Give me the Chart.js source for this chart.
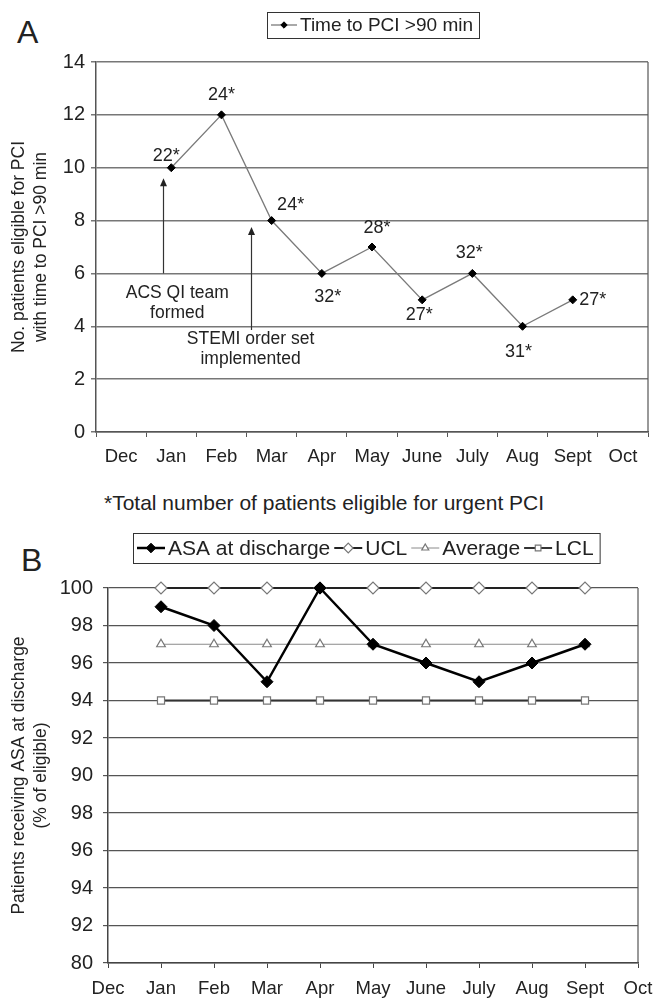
<!DOCTYPE html>
<html>
<head>
<meta charset="utf-8">
<script src="https://cdn.jsdelivr.net/npm/chart.js@4.4.1/dist/chart.umd.min.js"></script>
<style>
  body { margin: 0; background: #fff; width: 653px; height: 998px; position: relative; overflow: hidden;
         font-family: "Liberation Sans", Arial, sans-serif; color: #222; }
  canvas { position: absolute; left: 0; }
  #chartA { top: 0; }
  #chartB { top: 520px; }
  .panel { position: absolute; line-height: 1; }
  #note { position: absolute; left: 104px; top: 490px; font-size: 21px; line-height: 1.2; white-space: nowrap; }
</style>
</head>
<body>
<div class="panel" style="left:17px;top:16px;font-size:32px">A</div>
<div class="panel" style="left:21px;top:544px;font-size:32px">B</div>
<canvas id="chartA" width="653" height="480" style="width:653px;height:480px"></canvas>
<div id="note">*Total number of patients eligible for urgent PCI</div>
<canvas id="chartB" width="653" height="478" style="width:653px;height:478px"></canvas>
<script>
const months = ["Dec", "Jan", "Feb", "Mar", "Apr", "May", "June", "July", "Aug", "Sept", "Oct"];

// panel A
const pciOver90 = [null, 10, 12, 8, 6, 7, 5, 6, 4, 5, null];
const eligibleTotals = [null, 22, 24, 24, 32, 28, 27, 32, 31, 27, null];

// panel B
const asaDischarge = [null, 99, 98, 95, 100, 97, 96, 95, 96, 97, null];
const ucl = [null, 100, 100, 100, 100, 100, 100, 100, 100, 100, null];
const average = [null, 97, 97, 97, 97, 97, 97, 97, 97, 97, null];
const lcl = [null, 94, 94, 94, 94, 94, 94, 94, 94, 94, null];
const yTickLabelsB = ["80", "92", "94", "96", "98", "90", "92", "94", "96", "98", "100"];

// label placement around each point (px), and the two arrows of panel A (in axis units)
const labelOffsets = [null, [-5, -12], [0, -20], [19, -16], [6, 24], [5, -19], [-3, 15], [-3, -20], [-4, 26], [20, 0]];
const arrows = [
  { x: 0.84, from: 6, to: 9.6, text: ["ACS QI team", "formed"], tx: 1.12, ty: 5.25 },
  { x: 2.58, from: 3.86, to: 7.76, text: ["STEMI order set", "implemented"], tx: 2.58, ty: 3.5 },
];

const FONT = '"Liberation Sans", Arial, sans-serif';
Chart.defaults.font.family = FONT;
Chart.defaults.color = "#222";

function marker(ctx, style, x, y, r, fill, stroke, lw) {
  ctx.save();
  ctx.beginPath();
  if (style === "rectRot") {
    ctx.moveTo(x, y - r); ctx.lineTo(x + r, y); ctx.lineTo(x, y + r); ctx.lineTo(x - r, y);
  } else if (style === "triangle") {
    ctx.moveTo(x, y - r); ctx.lineTo(x + r * 0.87, y + r * 0.5); ctx.lineTo(x - r * 0.87, y + r * 0.5);
  } else {
    const s = r * 0.707;
    ctx.rect(x - s, y - s, 2 * s, 2 * s);
  }
  ctx.closePath();
  ctx.fillStyle = fill; ctx.fill();
  ctx.lineWidth = lw; ctx.strokeStyle = stroke; ctx.stroke();
  ctx.restore();
}

// boxed legend, Excel style: line + marker + label
const boxLegend = {
  id: "boxLegend",
  afterDraw(chart, args, opts) {
    const ctx = chart.ctx;
    ctx.save();
    ctx.font = opts.fontSize + "px " + FONT;
    ctx.textBaseline = "middle";
    const cy = opts.top + opts.height / 2;
    let x = opts.left + 4;
    chart.data.datasets.forEach(ds => {
      ctx.strokeStyle = ds.borderColor;
      ctx.lineWidth = ds.borderWidth;
      ctx.beginPath(); ctx.moveTo(x, cy); ctx.lineTo(x + opts.seg, cy); ctx.stroke();
      marker(ctx, ds.pointStyle, x + opts.seg / 2, cy, ds.pointRadius * 0.8, ds.pointBackgroundColor, ds.pointBorderColor, ds.pointBorderWidth);
      x += opts.seg + 3;
      ctx.fillStyle = "#222";
      ctx.fillText(ds.label, x, cy + 1);
      x += ctx.measureText(ds.label).width + 4;
    });
    ctx.strokeStyle = "#333";
    ctx.lineWidth = 1;
    ctx.strokeRect(opts.left + 0.5, opts.top + 0.5, x - opts.left + 2, opts.height);
    ctx.restore();
  }
};

const rightBorder = {
  id: "rightBorder",
  afterDraw(chart) {
    const { ctx, chartArea } = chart;
    ctx.save();
    ctx.strokeStyle = "#555";
    ctx.lineWidth = 1.2;
    ctx.beginPath();
    ctx.moveTo(chartArea.right, chartArea.top);
    ctx.lineTo(chartArea.right, chartArea.bottom);
    ctx.stroke();
    ctx.restore();
  }
};

const annotationsA = {
  id: "annotationsA",
  afterDatasetsDraw(chart) {
    const { ctx, scales: { x, y } } = chart;
    ctx.save();
    ctx.fillStyle = "#222";
    ctx.textAlign = "center";
    ctx.textBaseline = "middle";
    // point labels
    ctx.font = "18px " + FONT;
    chart.getDatasetMeta(0).data.forEach((pt, i) => {
      if (eligibleTotals[i] == null) return;
      const [dx, dy] = labelOffsets[i];
      ctx.fillText(eligibleTotals[i] + "*", pt.x + dx, pt.y + dy);
    });
    // arrows
    ctx.font = "17.5px " + FONT;
    arrows.forEach(a => {
      const px = Math.round(x.getPixelForValue(a.x)) + 0.5;
      const y0 = y.getPixelForValue(a.from);
      const y1 = y.getPixelForValue(a.to);
      ctx.strokeStyle = "#333";
      ctx.lineWidth = 1.2;
      ctx.beginPath(); ctx.moveTo(px, y0); ctx.lineTo(px, y1 + 6); ctx.stroke();
      ctx.beginPath(); ctx.moveTo(px, y1); ctx.lineTo(px + 3.5, y1 + 8); ctx.lineTo(px - 3.5, y1 + 8); ctx.closePath(); ctx.fill();
      const tx = x.getPixelForValue(a.tx);
      const ty = y.getPixelForValue(a.ty);
      a.text.forEach((t, k) => ctx.fillText(t, tx, ty + k * 20));
    });
    ctx.restore();
  }
};

new Chart(document.getElementById("chartA"), {
  type: "line",
  data: {
    labels: months,
    datasets: [{
      label: "Time to PCI >90 min",
      data: pciOver90,
      borderColor: "#7a7a7a",
      borderWidth: 1.3,
      pointStyle: "rectRot",
      pointRadius: 4,
      pointBackgroundColor: "#000",
      pointBorderColor: "#000",
      pointBorderWidth: 1,
      tension: 0,
      clip: false,
    }],
  },
  options: {
    responsive: false,
    animation: false,
    layout: { padding: { top: 62, right: 1, left: 0, bottom: 0 } },
    plugins: {
      legend: { display: false },
      tooltip: { enabled: false },
      boxLegend: { left: 267, top: 12, height: 26, fontSize: 19, seg: 26 },
    },
    scales: {
      x: {
        offset: true,
        grid: { offset: true, drawOnChartArea: false, tickLength: 5, color: "#555" },
        border: { color: "#555", width: 1.5 },
        ticks: { font: { size: 18.5 }, padding: 9, autoSkip: false, maxRotation: 0 },
        afterFit: s => { s.height = 48; s.paddingLeft = 0; s.paddingRight = 0; },
      },
      y: {
        min: 0, max: 14,
        ticks: { stepSize: 2, font: { size: 20 }, padding: 6 },
        grid: { color: "#777", lineWidth: 1.5, tickLength: 5 },
        border: { color: "#555", width: 1.5 },
        title: { display: true, text: ["No. patients eligible for PCI", "with time to PCI >90 min"],
                 font: { size: 17.5, lineHeight: 1.25 }, padding: { top: 8, bottom: 0 } },
        afterFit: s => { s.width = 96; },
      },
    },
  },
  plugins: [annotationsA, boxLegend, rightBorder],
});

new Chart(document.getElementById("chartB"), {
  type: "line",
  data: {
    labels: months,
    datasets: [
      { label: "ASA at discharge", data: asaDischarge, borderColor: "#000", borderWidth: 2.5,
        pointStyle: "rectRot", pointRadius: 6, pointBackgroundColor: "#000", pointBorderColor: "#000",
        pointBorderWidth: 1, order: 0, clip: false },
      { label: "UCL", data: ucl, borderColor: "#222", borderWidth: 2,
        pointStyle: "rectRot", pointRadius: 6, pointBackgroundColor: "#fff", pointBorderColor: "#777",
        pointBorderWidth: 1.2, order: 1, clip: false },
      { label: "Average", data: average, borderColor: "#8a8a8a", borderWidth: 1,
        pointStyle: "triangle", pointRadius: 5, pointBackgroundColor: "#fff", pointBorderColor: "#777",
        pointBorderWidth: 1.2, order: 2, clip: false },
      { label: "LCL", data: lcl, borderColor: "#333", borderWidth: 2,
        pointStyle: "rect", pointRadius: 5, pointBackgroundColor: "#fff", pointBorderColor: "#777",
        pointBorderWidth: 1.2, order: 3, clip: false },
    ],
  },
  options: {
    responsive: false,
    animation: false,
    layout: { padding: { top: 68, right: 15, left: 0, bottom: 0 } },
    plugins: {
      legend: { display: false },
      tooltip: { enabled: false },
      boxLegend: { left: 133, top: 13, height: 30, fontSize: 21, seg: 28 },
    },
    scales: {
      x: {
        offset: false,
        grid: { drawOnChartArea: false, tickLength: 5, color: "#444" },
        border: { color: "#444", width: 1.5 },
        ticks: { font: { size: 18.5 }, padding: 10, autoSkip: false, maxRotation: 0 },
        afterFit: s => { s.height = 35; s.paddingLeft = 0; s.paddingRight = 0; },
      },
      y: {
        min: 80, max: 100,
        ticks: { stepSize: 2, font: { size: 20 }, padding: 10, callback: v => yTickLabelsB[Math.round((v - 80) / 2)] },
        grid: { color: "#555", lineWidth: 1.2, tickLength: 5 },
        border: { color: "#444", width: 1.5 },
        title: { display: true, text: ["Patients receiving ASA at discharge", "(% of eligible)"],
                 font: { size: 17.5, lineHeight: 1.25 }, padding: { top: 8, bottom: 0 } },
        afterFit: s => { s.width = 108; },
      },
    },
  },
  plugins: [boxLegend, rightBorder],
});
</script>
</body>
</html>
